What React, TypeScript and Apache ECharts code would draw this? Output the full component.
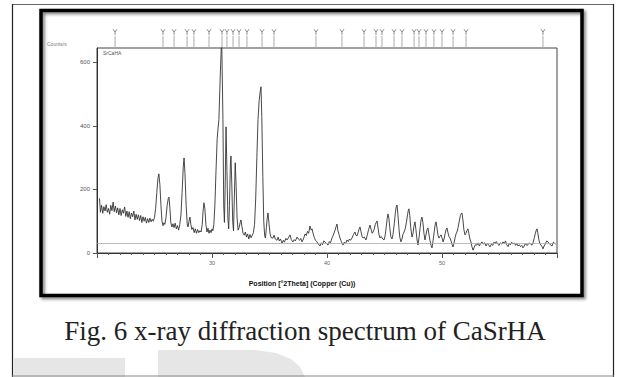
import React, { useEffect, useRef } from "react";
import * as echarts from "echarts";

// XRD pattern of CaSrHA: [2θ (deg), counts/s]
const spectrum: [number, number][] = [
  [20.22,172],[20.3,128],[20.4,150],[20.5,125],[20.6,146],[20.7,132],[20.8,152],[20.9,128],[21.0,140],[21.1,122],
  [21.2,150],[21.3,133],[21.4,160],[21.5,130],[21.6,148],[21.7,126],[21.8,142],[21.9,120],[22.0,140],[22.1,118],
  [22.2,136],[22.3,125],[22.4,145],[22.5,115],[22.6,132],[22.7,112],[22.8,130],[22.9,108],[23.0,126],[23.1,114],
  [23.2,132],[23.3,104],[23.4,122],[23.5,106],[23.6,120],[23.7,102],[23.8,118],[23.9,96],[24.0,114],[24.1,100],
  [24.2,112],[24.3,94],[24.4,108],[24.5,96],[24.6,110],[24.7,98],[24.8,106],[24.9,100],[25.0,112],[25.1,140],
  [25.2,190],[25.3,235],[25.38,249],[25.47,215],[25.56,150],[25.65,100],[25.74,86],[25.82,95],[25.9,90],[26.0,112],
  [26.1,150],[26.2,172],[26.26,176],[26.34,140],[26.42,95],[26.52,82],[26.6,92],[26.7,80],[26.8,94],[26.9,76],
  [27.0,86],[27.1,72],[27.2,90],[27.3,120],[27.4,190],[27.5,270],[27.57,299],[27.65,250],[27.75,150],[27.85,88],
  [27.92,82],[28.0,100],[28.08,113],[28.16,90],[28.25,74],[28.35,80],[28.45,64],[28.55,76],[28.65,62],[28.75,74],
  [28.85,64],[28.95,70],[29.05,66],[29.15,90],[29.22,130],[29.3,158],[29.38,140],[29.47,90],[29.56,66],[29.65,78],
  [29.74,62],[29.83,72],[29.92,64],[30.0,76],[30.08,70],[30.16,90],[30.25,150],[30.35,260],[30.45,360],[30.52,390],
  [30.6,420],[30.72,560],[30.84,680],[30.95,420],[31.02,150],[31.08,96],[31.14,200],[31.22,397],[31.3,260],[31.38,110],
  [31.45,76],[31.52,150],[31.6,280],[31.65,305],[31.72,220],[31.8,100],[31.87,70],[31.94,170],[32.02,284],[32.1,210],
  [32.18,110],[32.27,72],[32.36,80],[32.45,96],[32.52,104],[32.6,84],[32.7,62],[32.8,56],[32.9,66],[33.0,50],
  [33.1,60],[33.2,44],[33.3,58],[33.4,48],[33.5,56],[33.6,64],[33.7,90],[33.8,170],[33.9,300],[34.0,420],
  [34.1,480],[34.2,510],[34.26,523],[34.33,430],[34.42,240],[34.5,100],[34.58,54],[34.65,47],[34.73,80],[34.8,110],
  [34.87,126],[34.95,95],[35.05,60],[35.15,48],[35.3,47],[35.4,56],[35.5,44],[35.65,40],[35.75,50],[35.85,38],
  [35.95,44],[36.09,31],[36.2,40],[36.3,34],[36.42,46],[36.52,41],[36.65,48],[36.78,57],[36.9,42],[37.04,35],
  [37.15,42],[37.25,38],[37.39,50],[37.5,44],[37.62,40],[37.72,46],[37.83,35],[37.95,44],[38.09,60],[38.2,55],
  [38.3,68],[38.4,62],[38.52,85],[38.62,72],[38.7,76],[38.78,63],[38.9,48],[39.0,40],[39.13,35],[39.25,28],
  [39.39,22],[39.5,32],[39.6,26],[39.72,38],[39.83,35],[39.95,30],[40.09,25],[40.2,36],[40.3,32],[40.43,47],
  [40.55,56],[40.7,72],[40.8,84],[40.87,91],[40.95,70],[41.05,58],[41.13,47],[41.25,36],[41.39,25],[41.5,34],
  [41.62,30],[41.74,41],[41.85,36],[41.95,44],[42.05,40],[42.17,47],[42.3,58],[42.43,66],[42.52,56],[42.61,54],
  [42.7,64],[42.8,76],[42.87,82],[42.95,68],[43.05,52],[43.13,47],[43.25,50],[43.39,41],[43.5,56],[43.62,74],
  [43.74,88],[43.85,72],[43.93,62],[44.0,66],[44.1,74],[44.2,90],[44.28,96],[44.35,101],[44.45,76],[44.52,58],
  [44.61,47],[44.72,52],[44.85,44],[44.96,41],[45.06,56],[45.15,82],[45.23,108],[45.3,123],[45.38,110],[45.46,80],
  [45.55,52],[45.65,44],[45.74,58],[45.85,92],[45.95,128],[46.02,145],[46.09,151],[46.17,120],[46.25,80],[46.33,50],
  [46.43,35],[46.52,44],[46.6,58],[46.7,66],[46.8,76],[46.9,95],[47.0,120],[47.07,134],[47.13,139],[47.2,118],
  [47.28,80],[47.39,50],[47.48,62],[47.56,84],[47.65,98],[47.73,74],[47.82,44],[47.91,25],[48.0,48],[48.1,80],
  [48.18,104],[48.26,113],[48.34,96],[48.43,62],[48.52,41],[48.6,56],[48.7,74],[48.78,79],[48.86,60],[48.95,40],
  [49.05,24],[49.13,16],[49.22,38],[49.32,66],[49.4,88],[49.48,98],[49.56,80],[49.65,56],[49.74,47],[49.82,52],
  [49.92,57],[50.0,48],[50.09,35],[50.18,44],[50.28,62],[50.36,74],[50.43,79],[50.52,64],[50.6,52],[50.7,47],
  [50.8,36],[50.88,26],[50.96,19],[51.06,34],[51.15,50],[51.22,60],[51.3,66],[51.4,80],[51.5,100],[51.6,118],
  [51.67,124],[51.74,126],[51.82,104],[51.9,74],[52.0,57],[52.08,62],[52.16,70],[52.26,76],[52.34,60],[52.43,44],
  [52.52,35],[52.6,20],[52.7,9],[52.8,18],[52.9,26],[53.04,25],[53.15,32],[53.25,22],[53.36,30],[53.48,35],
  [53.58,28],[53.7,32],[53.83,22],[53.95,30],[54.05,26],[54.17,19],[54.3,28],[54.42,24],[54.52,34],[54.61,30],
  [54.72,36],[54.84,28],[54.96,24],[55.08,32],[55.2,28],[55.3,35],[55.42,30],[55.52,38],[55.63,26],[55.74,20],
  [55.85,30],[55.95,26],[56.06,34],[56.17,28],[56.28,32],[56.4,24],[56.5,30],[56.61,22],[56.72,26],[56.83,20],
  [56.94,24],[57.04,16],[57.15,22],[57.26,30],[57.37,24],[57.48,26],[57.6,32],[57.7,28],[57.83,25],[57.93,34],
  [58.03,48],[58.12,62],[58.2,72],[58.26,76],[58.33,64],[58.42,42],[58.52,28],[58.61,25],[58.7,20],[58.78,13],
  [58.88,22],[59.0,30],[59.1,38],[59.22,35],[59.32,30],[59.42,26],[59.57,22],[59.68,34],[59.8,30],[59.86,28],
];

// Reference-pattern stick positions (2θ, deg)
const refPeaks: number[] = [
  21.57, 25.74, 26.7, 27.83, 28.43, 29.74, 30.87, 31.3, 31.83, 32.35, 33.04, 34.35, 35.39,
  39.04, 41.3, 43.22, 44.26, 44.78, 45.83, 46.52, 47.57, 48.0, 48.61, 49.3, 50.0, 50.96, 52.09, 58.78,
];

const yTickValues = [0, 200, 400, 600];
const xTickLabels = [30, 40, 50];
const backgroundLevel = 32;

const captionText = "Fig. 6 x-ray diffraction spectrum of CaSrHA";
const xTitle = "Position [°2Theta] (Copper (Cu))";
const yTitle = "Counts/s";
const sampleName = "SrCaHA";

export default function App() {
  const ref = useRef<HTMLDivElement>(null);
  useEffect(() => {
    if (!ref.current) return;
    const chart = echarts.init(ref.current, null, { renderer: "svg" });
    chart.setOption({
      animation: false,
      backgroundColor: "#ffffff",
      grid: [
        { left: 97, top: 48, width: 460, height: 205, show: true, borderColor: "#444", borderWidth: 1, backgroundColor: "transparent" },
        { left: 97, top: 26, width: 460, height: 22 },
      ],
      xAxis: [
        {
          gridIndex: 0, type: "value", min: 20, max: 60, interval: 10,
          axisLine: { show: true, onZero: false, lineStyle: { color: "#333", width: 1 } },
          axisTick: { show: true, length: 5, lineStyle: { color: "#555", width: 1 } },
          minorTick: { show: true, splitNumber: 10, length: 2, lineStyle: { color: "#555", width: 1 } },
          axisLabel: {
            fontSize: 5.5, color: "#666", margin: 7, fontFamily: "Liberation Sans",
            formatter: (v: number) => (xTickLabels.includes(v) ? String(v) : ""),
          },
          splitLine: { show: false },
        },
        { gridIndex: 1, type: "value", min: 20, max: 60, show: false },
      ],
      yAxis: [
        {
          gridIndex: 0, type: "value", min: 0, max: 645, interval: 200,
          axisLine: { show: true, onZero: false, lineStyle: { color: "#333", width: 1 } },
          axisTick: { show: true, length: 4, customValues: yTickValues, lineStyle: { color: "#555" } },
          axisLabel: {
            customValues: yTickValues, fontSize: 6, color: "#555", margin: 7, fontFamily: "Liberation Sans",
            formatter: (v: number) => (yTickValues.includes(v) ? String(v) : ""),
          },
          splitLine: { show: false },
        },
        { gridIndex: 1, type: "value", min: 0, max: 1, show: false },
      ],
      series: [
        {
          type: "line", xAxisIndex: 0, yAxisIndex: 0, data: spectrum, symbol: "none", clip: true,
          lineStyle: { color: "#333", width: 0.9 },
          markLine: {
            silent: true, symbol: "none", label: { show: false },
            lineStyle: { color: "#aaa", width: 0.8, type: "solid" },
            data: [{ yAxis: backgroundLevel }],
          },
        },
        {
          type: "bar", xAxisIndex: 1, yAxisIndex: 1, barWidth: 1,
          data: refPeaks.map((p) => [p, 0.55]),
          itemStyle: { color: "#aaa" },
        },
        {
          type: "scatter", xAxisIndex: 1, yAxisIndex: 1,
          data: refPeaks.map((p) => [p, 0.72]),
          symbol: "path://M0,0 L3,5 L6,0 M3,5 L3,10",
          symbolSize: [4, 6],
          itemStyle: { color: "none", borderColor: "#555", borderWidth: 0.8 },
        },
      ],
      graphic: [
        // watermark shapes
        { type: "rect", z: -10, shape: { x: 14, y: 358, width: 111, height: 19 }, style: { fill: "#e6e6e6" } },
        {
          type: "polygon", z: -10,
          shape: { points: [[158, 350], [255, 350], [276, 353], [291, 359], [300, 367], [305, 377], [158, 377]] },
          style: { fill: "#e6e6e6" },
        },
        // outer cell border
        { type: "line", shape: { x1: 12, y1: 4.5, x2: 614, y2: 4.5 }, style: { stroke: "#666", lineWidth: 1 } },
        { type: "line", shape: { x1: 12.5, y1: 4, x2: 12.5, y2: 377 }, style: { stroke: "#222", lineWidth: 1.2 } },
        { type: "line", shape: { x1: 613.5, y1: 4, x2: 613.5, y2: 377 }, style: { stroke: "#222", lineWidth: 1.2 } },
        { type: "line", shape: { x1: 12, y1: 376, x2: 614, y2: 376 }, style: { stroke: "#888", lineWidth: 1 } },
        // picture frame
        {
          type: "rect", shape: { x: 41, y: 10.5, width: 541, height: 285 },
          style: { fill: "none", stroke: "#000", lineWidth: 3.5, shadowBlur: 3, shadowOffsetX: 2, shadowOffsetY: 2, shadowColor: "rgba(0,0,0,0.5)" },
        },
        // small texts
        { type: "text", x: 47, y: 41, style: { text: yTitle, font: "5px 'Liberation Sans'", fill: "#777" } },
        { type: "text", x: 103, y: 50, style: { text: sampleName, font: "5px 'Liberation Sans'", fill: "#555" } },
        {
          type: "text", x: 302, y: 283,
          style: { text: xTitle, font: "bold 7px 'Liberation Sans'", fill: "#111", textAlign: "center", align: "center", textVerticalAlign: "middle", verticalAlign: "middle" },
        },
        {
          type: "text", x: 305, y: 331,
          style: { text: captionText, font: "27px 'Liberation Serif'", fill: "#222", textAlign: "center", align: "center", textVerticalAlign: "middle", verticalAlign: "middle" },
        },
      ],
    });
    return () => chart.dispose();
  }, []);
  return (
    <div
      ref={ref}
      style={{ position: "fixed", left: 0, top: 0, width: 619, height: 377, background: "#fff" }}
    />
  );
}
